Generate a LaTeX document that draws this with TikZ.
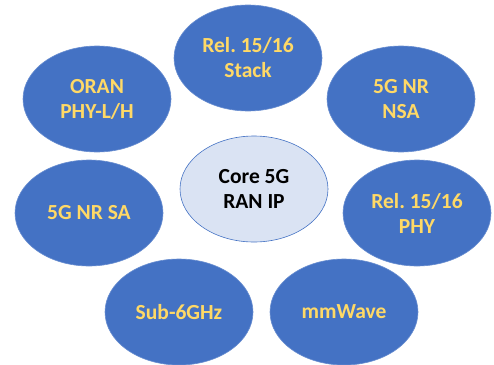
\documentclass[tikz,border=0pt]{standalone}
\usepackage{fontspec}
\setmainfont{Carlito}
\frenchspacing
\usetikzlibrary{shapes.geometric}

\definecolor{topicblue}{HTML}{4472C4}
\definecolor{topicgold}{HTML}{FFD966}
\definecolor{corefill}{HTML}{DAE3F3}

\begin{document}
\begin{tikzpicture}[x=1pt,y=-1pt,
    topic/.style={ellipse,fill=topicblue,draw=topicblue!80!white,line width=0.6pt,
      minimum width=148pt,minimum height=106pt,inner sep=0pt,
      align=center,text=topicgold,font=\bfseries\fontsize{21.5}{25}\selectfont},
    core/.style={topic,fill=corefill,draw=topicblue,text=black}]
    \useasboundingbox (0,0) rectangle (494,364);

    \node[core]  (core)  at (254,189) {Core 5G\\RAN IP};

    \node[topic] (stack) at (248,58)  {Rel. 15/16\\Stack};
    \node[topic] (oran)  at (97,99)   {ORAN\\PHY-L/H};
    \node[topic] (nsa)   at (401,99)  {5G NR\\NSA};
    \node[topic] (sa)    at (89,213)  {5G NR SA};
    \node[topic] (phy)   at (417,213) {Rel. 15/16\\PHY};
    \node[topic] (sub6)  at (179,312) {Sub-6GHz};
    \node[topic] (mmw)   at (344,312) {mmWave};

  \end{tikzpicture}
\end{document}
